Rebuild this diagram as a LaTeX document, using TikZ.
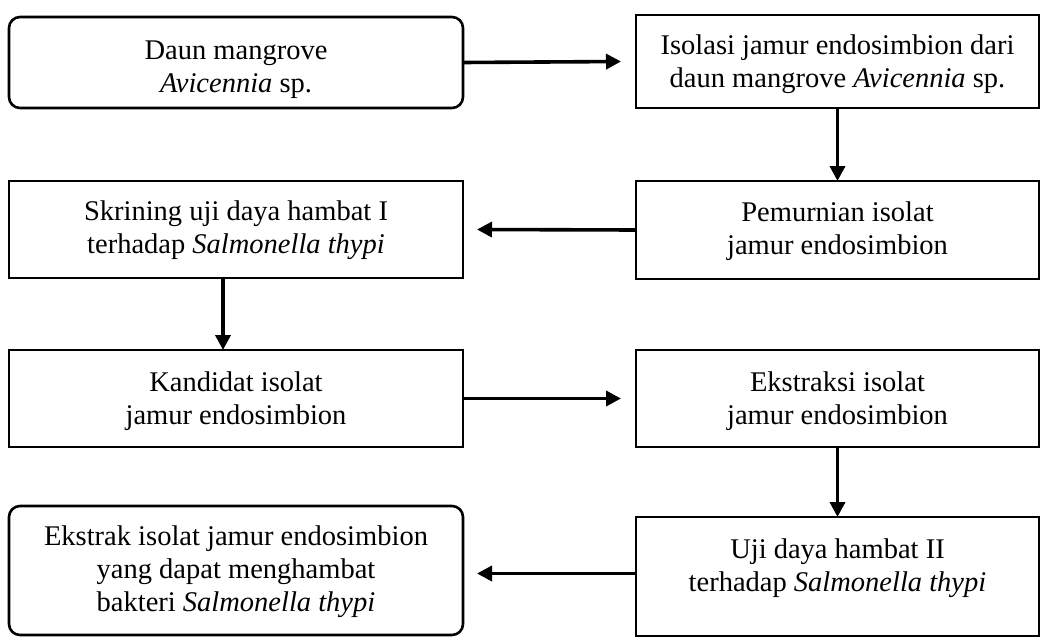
\documentclass[tikz,border=0pt]{standalone}
\usepackage{fontspec}
\setmainfont{Liberation Serif}
\usetikzlibrary{arrows.meta}
\begin{document}
\begin{tikzpicture}[x=1pt,y={(0pt,-1pt)},
  box/.style={draw=black,line width=2.6pt,rectangle,inner sep=0pt,outer sep=0pt},
  rbox/.style={box,rounded corners=11pt},
  txt/.style={align=center,font=\fontsize{28.5}{33}\selectfont,inner sep=0pt},
  arr/.style={line width=3.6pt,-{Triangle[length=15pt,width=15pt]}}]
\useasboundingbox (0,0) rectangle (1041,637);
% boxes
\node[rbox,minimum width=454pt,minimum height=91pt] (b1) at (236,62.5) {};
\node[box,minimum width=403pt,minimum height=93pt] (b2) at (837.5,61.5) {};
\node[box,minimum width=454pt,minimum height=97pt] (b3) at (236,229.5) {};
\node[box,minimum width=403pt,minimum height=98pt] (b4) at (837.5,230) {};
\node[box,minimum width=454pt,minimum height=97pt] (b5) at (236,398.5) {};
\node[box,minimum width=403pt,minimum height=97pt] (b6) at (837.5,398.5) {};
\node[box,minimum width=403pt,minimum height=119pt] (b7) at (837.5,576.5) {};
\node[rbox,minimum width=454pt,minimum height=129pt] (b8) at (236,570.5) {};
% texts
\node[txt] (t1) at (236,70) {Daun mangrove\\\textit{Avicennia} sp.};
\node[txt] (t2) at (837.5,64.5) {Isolasi jamur endosimbion dari\\daun mangrove \textit{Avicennia} sp.};
\node[txt] (t3) at (236,230) {Skrining uji daya hambat I\\terhadap \textit{Salmonella thypi}};
\node[txt] (t4) at (837.5,231) {Pemurnian isolat\\jamur endosimbion};
\node[txt] (t5) at (236,401) {Kandidat isolat\\jamur endosimbion};
\node[txt] (t6) at (837.5,401) {Ekstraksi isolat\\jamur endosimbion};
\node[txt] (t7) at (837.5,568) {Uji daya hambat II\\terhadap \textit{Salmonella thypi}};
\node[txt] (t8) at (236,572) {Ekstrak isolat jamur endosimbion\\yang dapat menghambat\\bakteri \textit{Salmonella thypi}};
% connectors
\draw[arr] (b1.east) -- ([xshift=-15pt]b2.west);
\draw[arr] (b2.south) -- (b4.north);
\draw[arr] (b4.west) -- ([xshift=14pt]b3.east);
\draw[arr] ([xshift=-13pt]b3.south) -- ([xshift=-13pt]b5.north);
\draw[arr] (b5.east) -- ([xshift=-15pt]b6.west);
\draw[arr] (b6.south) -- (b7.north);
\draw[arr] ([yshift=3pt]b7.west) -- ([xshift=14pt,yshift=3pt]b7.west -| b8.east);
\end{tikzpicture}
\end{document}
